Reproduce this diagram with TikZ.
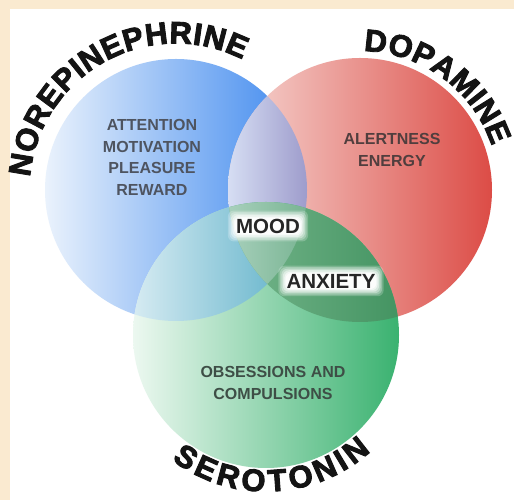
\documentclass[tikz,border=0pt]{standalone}
\usepackage{fontspec}
\setmainfont{Liberation Sans}
\newfontfamily\heavyfam{Liberation Sans Bold}[FakeBold=3]
\usetikzlibrary{decorations.text}
\pgfdeclarelayer{front}
\pgfsetlayers{main,front}
\definecolor{cream}{RGB}{250,234,208}
\definecolor{bluL}{RGB}{234,242,252}
\definecolor{bluR}{RGB}{58,134,238}
\definecolor{redL}{RGB}{246,216,212}
\definecolor{redR}{RGB}{220,76,70}
\definecolor{grnL}{RGB}{236,248,240}
\definecolor{grnR}{RGB}{58,178,112}
\definecolor{brL}{RGB}{214,222,243}
\definecolor{brR}{RGB}{158,156,204}
\definecolor{bgL}{RGB}{214,235,242}
\definecolor{bgR}{RGB}{92,176,200}
\definecolor{rgL}{RGB}{118,182,140}
\definecolor{rgR}{RGB}{68,148,98}
\definecolor{tL}{RGB}{168,208,188}
\definecolor{tR}{RGB}{120,180,146}
\definecolor{attcol}{RGB}{78,84,96}
\definecolor{alertcol}{RGB}{80,62,62}
\definecolor{obscol}{RGB}{62,78,70}
\newcommand\myarcfont{\heavyfam\fontsize{31}{31}\selectfont}
\begin{document}
\begin{tikzpicture}[x=1pt,y=1pt,
  arctext/.style={decorate, decoration={text along path, text align=fit to path, text color=black!92}},
  innerlabel/.style={font=\fontsize{16}{21.5}\selectfont\bfseries, align=center, inner sep=0pt},
  biglabel/.style={font=\fontsize{20.5}{20.5}\selectfont\bfseries, inner sep=0pt, text=black!85},
]
\useasboundingbox (0,0) rectangle (514,500);
\fill[cream] (0,0) rectangle (514,500);
\fill[white] (10,0) rectangle (514,491);
\coordinate (bc) at (176,310);
\coordinate (rc) at (360,310);
\coordinate (gc) at (266,165);
% circles
\shade[left color=bluL, right color=bluR] (bc) circle[radius=131pt];
\shade[left color=redL, right color=redR] (rc) circle[radius=132pt];
\shade[left color=grnL, right color=grnR] (gc) circle[radius=133pt];
% overlaps
\begin{scope}
  \clip (bc) circle[radius=131pt];
  \clip (rc) circle[radius=132pt];
  \shade[left color=brL, right color=brR] (228,0) rectangle (307,500);
\end{scope}
\begin{scope}
  \clip (bc) circle[radius=131pt];
  \clip (gc) circle[radius=133pt];
  \shade[left color=bgL, right color=bgR] (133,0) rectangle (300,500);
\end{scope}
\begin{scope}
  \clip (rc) circle[radius=132pt];
  \clip (gc) circle[radius=133pt];
  \shade[left color=rgL, right color=rgR] (228,0) rectangle (398,500);
\end{scope}
\begin{scope}
  \clip (bc) circle[radius=131pt];
  \clip (rc) circle[radius=132pt];
  \clip (gc) circle[radius=133pt];
  \shade[left color=tL, right color=tR] (228,0) rectangle (307,500);
\end{scope}
% curved titles
\path[arctext, decoration={text={|\myarcfont|NOREPINEPHRINE}}]
  ([shift={(175:146.5pt)}]bc) arc[start angle=175, end angle=63, radius=146.5pt];
\path[arctext, decoration={text={|\myarcfont|DOPAMINE}}]
  ([shift={(88.5:139pt)}]rc) arc[start angle=88.5, end angle=18.5, radius=139pt];
\path[arctext, decoration={text={|\myarcfont|SEROTONIN}}]
  ([shift={(233:156.5pt)}]gc) arc[start angle=233, end angle=312, radius=156.5pt];
% labels
\begin{pgfonlayer}{front}
\node[innerlabel, text=attcol] (attn) at (152,342.5) {ATTENTION\\MOTIVATION\\PLEASURE\\REWARD};
\node[innerlabel, text=alertcol] (alert) at (392,350) {ALERTNESS\\ENERGY};
\node[innerlabel, text=obscol] (obs) at (273,117) {OBSESSIONS AND\\COMPULSIONS};
\node[biglabel] (mood) at (268,274) {MOOD};
\node[biglabel] (anx) at (331,219) {ANXIETY};
\end{pgfonlayer}
% glows
\foreach \n in {mood,anx}{
  \foreach \g/\o in {8/0.22,6.5/0.28,5/0.35,3.5/0.45,2/0.6,0.8/0.8}{
    \fill[white, opacity=\o, rounded corners=6pt]
      ([shift={(-\g,-\g)}]\n.south west) rectangle ([shift={(\g,\g)}]\n.north east);
  }
}
\end{tikzpicture}
\end{document}
